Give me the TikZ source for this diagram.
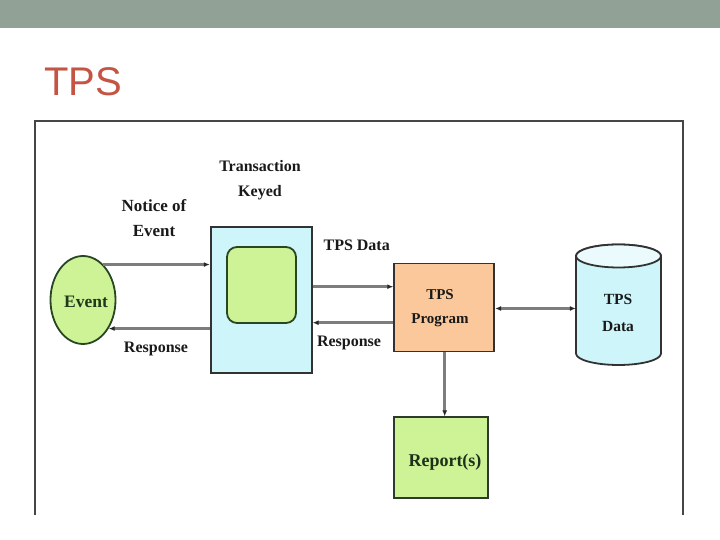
\documentclass[tikz,border=0pt]{standalone}
\usepackage{fontspec}
\setmainfont{Liberation Serif}
\newfontfamily\titlefont{Liberation Sans}
\usetikzlibrary{shapes.geometric,arrows.meta,calc}
\definecolor{barcol}{RGB}{146,161,150}
\definecolor{titlecol}{RGB}{196,85,68}
\definecolor{framecol}{RGB}{70,70,70}
\definecolor{lgreen}{RGB}{206,242,150}
\definecolor{dgreen}{RGB}{40,70,35}
\definecolor{lcyan}{RGB}{205,245,250}
\definecolor{lorange}{RGB}{250,200,155}
\definecolor{boxline}{RGB}{50,50,50}
\definecolor{conn}{RGB}{125,125,125}
\definecolor{tipcol}{RGB}{40,40,40}
\tikzset{
  lbl/.style={font=\bfseries\fontsize{16}{25}\selectfont, text=black!90, inner sep=0pt, align=center},
  greenshape/.style={fill=lgreen, draw=dgreen, line width=1.8pt},
  boxshape/.style={draw=boxline, line width=1.8pt},
  conline/.style={draw=conn, line width=2.6pt},
  arr/.style={conline, -{Latex[length=6pt,width=5pt,color=tipcol]}},
  darr/.style={conline, {Latex[length=6pt,width=5pt,color=tipcol]}-{Latex[length=6pt,width=5pt,color=tipcol]}},
}
\begin{document}
\begin{tikzpicture}[x=1pt,y=1pt]
\useasboundingbox (0,0) rectangle (720,540);
% top bar
\fill[barcol] (0,512) rectangle (720,540);
% title
\node[anchor=base west, inner sep=0pt, text=titlecol, font=\titlefont\fontsize{40}{40}\selectfont] (title) at (44,444) {TPS};
% frame
\draw[framecol, line width=1.6pt] (35,25) -- (35,419) -- (683,419) -- (683,25);

% nodes
\node[ellipse, greenshape, minimum width=65pt, minimum height=88pt, inner sep=0pt] (event) at (83,240) {};
\node[lbl, anchor=base, text=dgreen!80!black, font=\bfseries\fontsize{17.5}{20}\selectfont] (eventtxt) at (86,232) {Event};

\node[rectangle, boxshape, fill=lcyan, minimum width=101pt, minimum height=146pt, inner sep=0pt] (trans) at (261.2,240.2) {};
\node[rectangle, rounded corners=10pt, greenshape, minimum width=69pt, minimum height=76pt, inner sep=0pt] (inner) at (261.5,255) {};

\node[rectangle, boxshape, fill=lorange, minimum width=100pt, minimum height=88pt, inner sep=0pt] (prog) at (444.2,232.5) {};
\node[lbl, font=\bfseries\fontsize{15}{23.3}\selectfont] (progtxt) at (440,231.7) {TPS\\Program};

\node[rectangle, greenshape, draw=boxline!60!dgreen, minimum width=94pt, minimum height=81pt, inner sep=0pt] (report) at (441.2,82.2) {};
\node[lbl, anchor=base, text=dgreen!70!black, font=\bfseries\fontsize{18}{20}\selectfont] (reporttxt) at (445,73.3) {Report(s)};

% cylinder
\node[rectangle, minimum width=85pt, minimum height=120.5pt, inner sep=0pt] (db) at (618.5,235.25) {};
\filldraw[fill=lcyan, draw=boxline, line width=1.8pt]
  (576,284) -- (576,186.5) arc[start angle=180, end angle=360, x radius=42.5pt, y radius=11.5pt]
  -- (661,284) arc[start angle=0, end angle=180, x radius=42.5pt, y radius=11.5pt] -- cycle;
\draw[boxline, line width=1.8pt, fill=lcyan!40!white] (618.5,284) ellipse[x radius=42.5pt, y radius=11.5pt];
\node[lbl, font=\bfseries\fontsize{15.5}{26.7}\selectfont] (dbtxt) at (618,226.8) {TPS\\Data};

% labels
\node[lbl] (keyed) at (260,359.5) {Transaction\\Keyed};
\node[lbl, font=\bfseries\fontsize{17}{25}\selectfont] (notice) at (154,321.6) {Notice of\\Event};
\node[lbl, anchor=base] (resp1) at (156,187) {Response};
\node[lbl, anchor=base] (tpsdata) at (356.7,289.3) {TPS Data};
\node[lbl, anchor=base] (resp2) at (349,193.3) {Response};

% connectors
\draw[arr] (event.60) -- (event.60 -| trans.west);
\draw[arr] (trans.west |- event.-48) -- (event.-48);
\draw[arr] ([yshift=20.8pt]prog.west -| trans.east) -- ([yshift=20.8pt]prog.west);
\draw[arr] ([yshift=-15.2pt]prog.west) -- ([yshift=-15.2pt]prog.west -| trans.east);
\draw[darr] ([yshift=-1pt]prog.east) -- ([yshift=-1pt]prog.east -| db.west);
\draw[arr] ([xshift=0.5pt]prog.south) -- ([xshift=0.5pt]prog.south |- report.north);
\end{tikzpicture}
\end{document}
